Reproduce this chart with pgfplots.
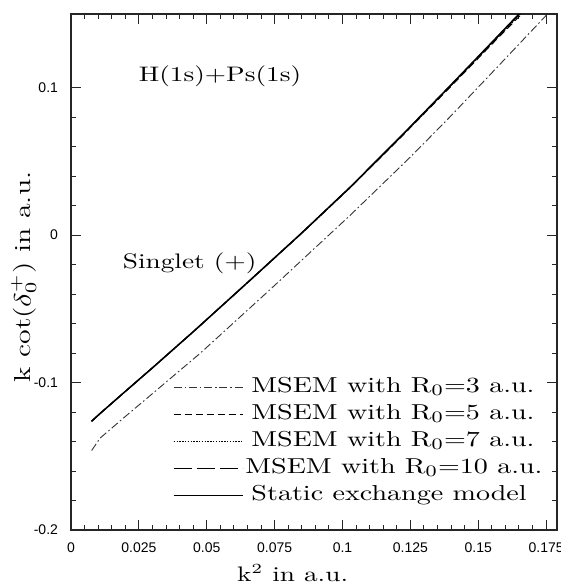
\documentclass[border=0pt]{standalone}
\usepackage{fontspec}
\usepackage{graphicx}
\usepackage{pgfplots}
\pgfplotsset{compat=1.18}
\newfontfamily\ticksans{Liberation Sans}
\newcommand{\wt}[1]{\scalebox{1.3}[1]{#1}}

\pgfplotstableread{
x y
0.0076 -0.1461
0.0107 -0.1377
0.0200 -0.1230
0.0300 -0.1075
0.0476 -0.0801
0.0734 -0.0368
0.1029 0.0136
0.1250 0.0530
0.1400 0.0810
0.1582 0.1163
0.1755 0.1500
0.1770 0.1530
}\rthree

\pgfplotstableread{
x y
0.0076 -0.1262
0.0107 -0.1210
0.0200 -0.1060
0.0300 -0.0900
0.0457 -0.0644
0.0660 -0.0305
0.0850 0.0015
0.1029 0.0327
0.1213 0.0666
0.1400 0.1020
0.1557 0.1321
0.1650 0.1500
0.1665 0.1530
}\static

\pgfplotstableread{
x y
0.0076 -0.1262
0.0107 -0.1210
0.0200 -0.1060
0.0300 -0.0900
0.0457 -0.0644
0.0660 -0.0306
0.0850 0.0013
0.1029 0.0323
0.1213 0.0660
0.1400 0.1010
0.1557 0.1308
0.1660 0.1500
0.1680 0.1530
}\rfive

\pgfplotstableread{
x y
0.0076 -0.1262
0.0107 -0.1210
0.0200 -0.1060
0.0300 -0.0900
0.0457 -0.0644
0.0660 -0.0305
0.0850 0.0014
0.1029 0.0325
0.1213 0.0663
0.1400 0.1015
0.1557 0.1314
0.1655 0.1500
0.1672 0.1530
}\rseven

\pgfplotstableread{
x y
0.0076 -0.1262
0.0107 -0.1210
0.0200 -0.1060
0.0300 -0.0900
0.0457 -0.0644
0.0660 -0.0305
0.0850 0.0015
0.1029 0.0326
0.1213 0.0665
0.1400 0.1018
0.1557 0.1318
0.1652 0.1500
0.1668 0.1530
}\rten

\begin{document}
\begin{tikzpicture}
\useasboundingbox (-35.5pt,-28pt) rectangle (245pt,265pt);
\begin{axis}[
  at={(0pt,0pt)}, anchor=south west,
  scale only axis, width=243pt, height=258pt,
  xmin=0, xmax=0.179, ymin=-0.2, ymax=0.15,
  xtick={0,0.025,0.05,0.075,0.1,0.125,0.15,0.175},
  xticklabels={0,0.025,0.05,0.075,0.1,0.125,0.15,0.175},
  ytick={-0.2,-0.1,0,0.1},
  yticklabels={-0.2,-0.1,0,0.1},
  minor x tick num=4, minor y tick num=4,
  scaled ticks=false,
  tick align=inside,
  major tick length=5pt, minor tick length=2.5pt,
  axis line style={line width=0.6pt, black!85},
  every tick/.style={line width=0.5pt, black!85},
  tick label style={font=\ticksans\fontsize{7}{8}\selectfont},
  /pgf/number format/assume math mode=true,
  yticklabel style={xshift=-3pt},
  xticklabel style={yshift=-3pt},
  xlabel={\wt{k$^2$ in a.u.}},
  ylabel={\wt{k cot($\delta_0^+$) in a.u.}},
  xlabel style={font=\fontsize{10.5}{12}\selectfont, at={(axis description cs:0.456,-0.083)}, anchor=center},
  ylabel style={font=\fontsize{11.5}{13}\selectfont, at={(axis description cs:-0.097,0.49)}, anchor=center},
  legend style={draw=none, fill=none, at={(axis description cs:0.209,0.2946)}, anchor=north west,
    inner sep=0pt, row sep=4.5pt,
    nodes={inner sep=0pt, text height=7pt, text depth=2pt, font=\fontsize{10.8}{12}\selectfont}},
  legend cell align=left,
  legend image code/.code={\draw[#1] (0pt,0pt) -- (34.5pt,0pt);},
  clip=true,
]
\addplot[black!80, line width=0.45pt, dash pattern=on 4pt off 1.4pt on 0.8pt off 1.4pt] table {\rthree};
\addlegendentry{\hspace{4pt}\wt{MSEM with R$_0$=3 a.u.}}
\addplot[black, line width=0.5pt, dash pattern=on 3.5pt off 2pt] table {\rfive};
\addlegendentry{\hspace{4pt}\wt{MSEM with R$_0$=5 a.u.}}
\addplot[black, line width=0.5pt, dash pattern=on 0.7pt off 0.7pt] table {\rseven};
\addlegendentry{\hspace{4pt}\wt{MSEM with R$_0$=7 a.u.}}
\addplot[black, line width=0.6pt, dash pattern=on 9pt off 2.5pt] table {\rten};
\addlegendentry{\hspace{1pt}\wt{MSEM with R$_0$=10 a.u.}}
\addplot[black, line width=0.75pt] table {\static};
\addlegendentry{\hspace{4pt}\wt{Static exchange model}}
\node[font=\fontsize{10.5}{12}\selectfont, anchor=center] at (axis cs:0.0549,0.1077) {\wt{H(1s)+Ps(1s)}};
\node[font=\fontsize{10.5}{12}\selectfont, anchor=center] at (axis cs:0.0437,-0.019) {\wt{Singlet (+)}};
\end{axis}
\end{tikzpicture}
\end{document}
